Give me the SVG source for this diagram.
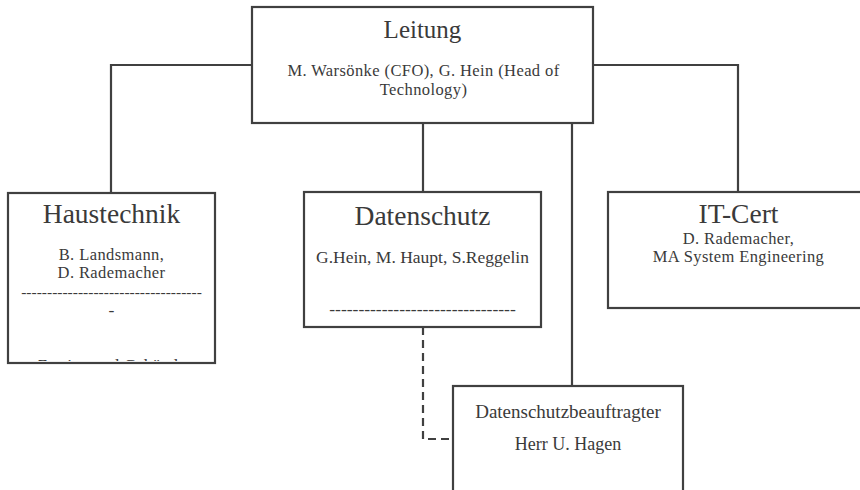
<svg xmlns="http://www.w3.org/2000/svg" width="860" height="490" viewBox="0 0 860 490">
<defs>
<style>
.box{fill:#ffffff;stroke:#404040;stroke-width:2.2}
.ln{fill:none;stroke:#404040;stroke-width:2.2}
.dash{fill:none;stroke:#404040;stroke-width:2.2;stroke-dasharray:8 5}
text{font-family:"Liberation Serif","Times New Roman",serif;fill:#3a3a3a;text-anchor:middle}
.t{font-size:27.5px}
.s{font-size:17.5px}
.s2{font-size:16.5px;letter-spacing:0.4px}
.d{font-size:15.5px}
</style>
<clipPath id="clipH"><rect x="9" y="194" width="205" height="167"/></clipPath>
</defs>
<g id="connectors">
<polyline class="ln" points="252,65 111,65 111,193"/>
<polyline class="ln" points="593,65 738,65 738,192"/>
<line class="ln" x1="423" y1="123" x2="423" y2="192"/>
<line class="ln" x1="572" y1="119" x2="572" y2="386"/>
<polyline class="dash" points="423,327 423,439 453,439"/>
</g>
<g id="leitung">
<rect class="box" x="252" y="7" width="341" height="116"/>
<text x="422.5" y="38" style="font-size:25px">Leitung</text>
<text class="s2" x="423.5" y="76">M. Warsönke (CFO), G. Hein (Head of</text>
<text class="s2" x="423.5" y="95">Technology)</text>
</g>
<g id="haustechnik">
<rect class="box" x="8" y="193" width="207" height="170"/>
<text class="t" x="111.5" y="223">Haustechnik</text>
<text class="s2" x="111.5" y="259.5">B. Landsmann,</text>
<text class="s2" x="111.5" y="278">D. Rademacher</text>
<text class="d" x="111.5" y="296.5">-----------------------------------</text>
<text class="s" x="111.5" y="316">-</text>
<text class="s" x="111.5" y="371" clip-path="url(#clipH)">Zutritts und Gebäude</text>
</g>
<g id="datenschutz">
<rect class="box" x="304" y="192" width="237" height="135"/>
<text class="t" x="422.5" y="225">Datenschutz</text>
<text class="s" x="422.5" y="263">G.Hein, M. Haupt, S.Reggelin</text>
<text class="s" x="422.5" y="315">--------------------------------</text>
</g>
<g id="itcert">
<rect class="box" x="608" y="192" width="262" height="116"/>
<text class="t" x="738.5" y="223">IT-Cert</text>
<text class="s2" x="738.5" y="243.5">D. Rademacher,</text>
<text class="s2" x="738.5" y="262">MA System Engineering</text>
</g>
<g id="datenschutzbeauftragter">
<rect class="box" x="453" y="386" width="230" height="120"/>
<text x="568" y="418" style="font-size:19px">Datenschutzbeauftragter</text>
<text x="568" y="450" style="font-size:18px">Herr U. Hagen</text>
</g>
</svg>
